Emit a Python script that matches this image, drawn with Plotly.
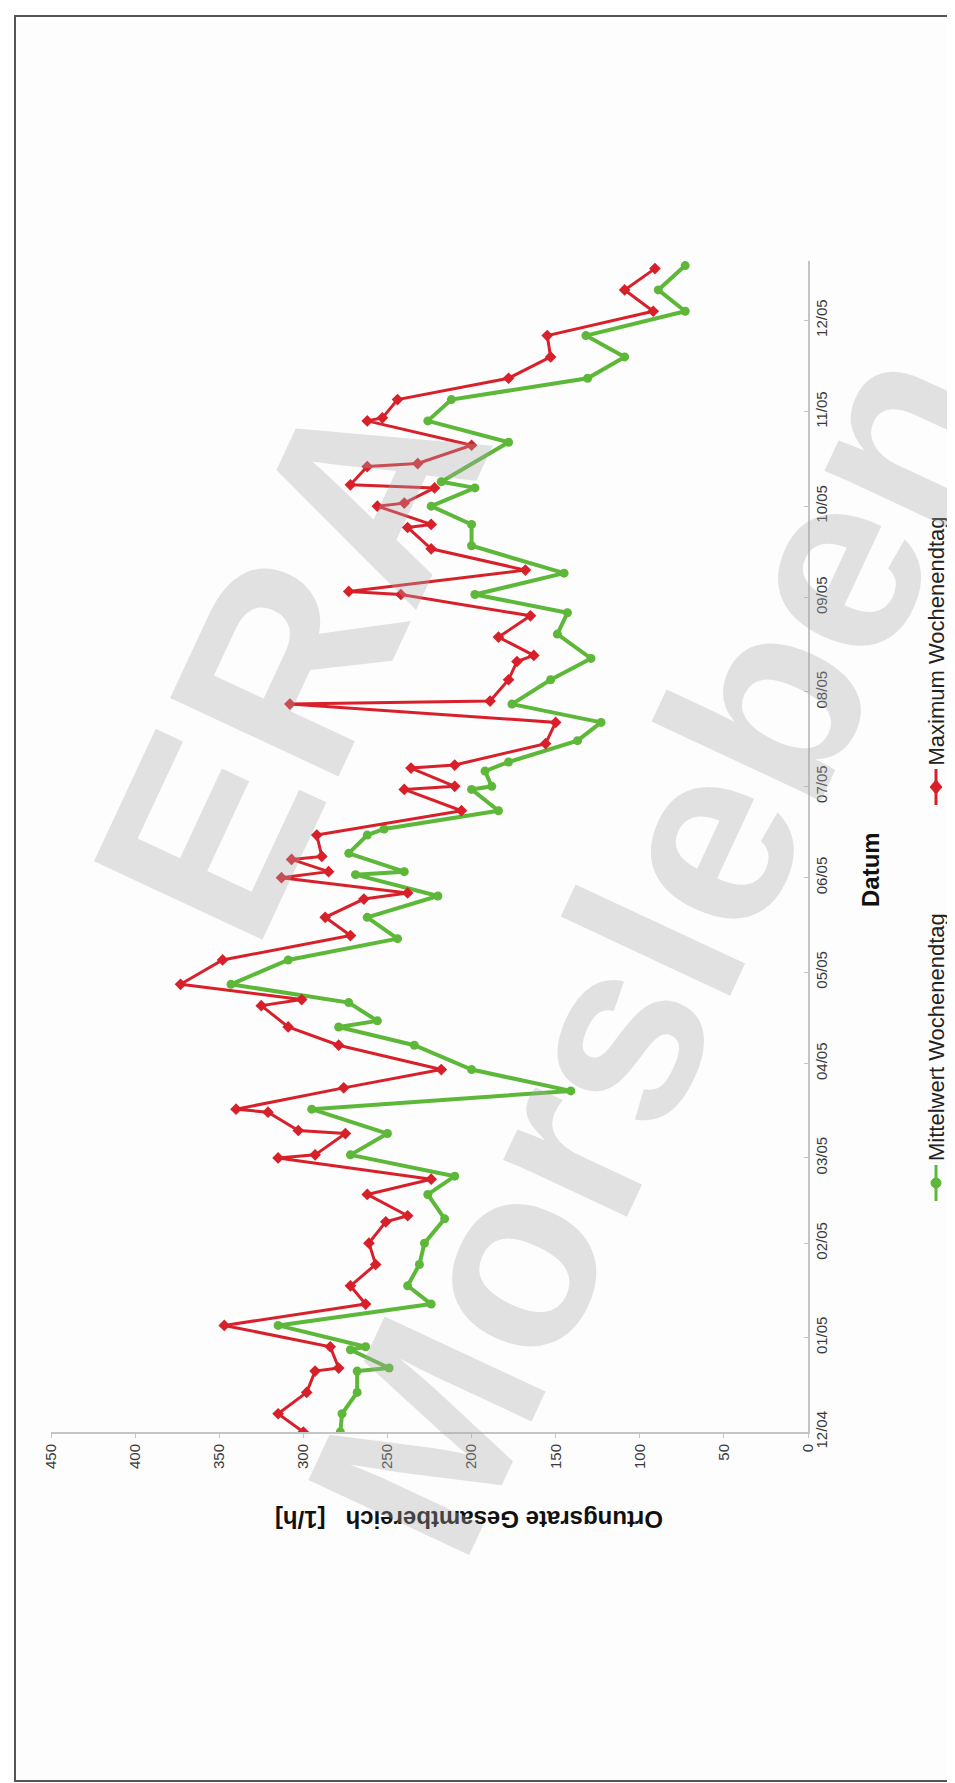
import plotly.graph_objects as go

# ---------------- data ----------------
mean_dates = ["2004-12-01","2004-12-07","2004-12-14","2004-12-21","2004-12-22","2004-12-28","2004-12-29",
              "2005-01-05","2005-01-12","2005-01-18","2005-01-25","2005-02-01","2005-02-09","2005-02-17",
              "2005-02-23","2005-03-02","2005-03-09","2005-03-17","2005-03-23","2005-03-30","2005-04-07",
              "2005-04-13","2005-04-15","2005-04-21","2005-04-27","2005-05-05","2005-05-12","2005-05-19",
              "2005-05-26","2005-06-02","2005-06-03","2005-06-09","2005-06-15","2005-06-17","2005-06-23",
              "2005-06-30","2005-07-01","2005-07-06","2005-07-09","2005-07-16","2005-07-22","2005-07-28",
              "2005-08-05","2005-08-12","2005-08-20","2005-08-27","2005-09-02","2005-09-09","2005-09-18",
              "2005-09-25","2005-10-01","2005-10-07","2005-10-09","2005-10-22","2005-10-29","2005-11-05",
              "2005-11-12","2005-11-19","2005-11-26","2005-12-04","2005-12-11","2005-12-19"]
mean_values = [278,277,268,268,249,272,263,315,224,238,231,228,216,226,210,272,250,295,141,200,
               234,279,256,273,343,309,244,262,220,269,240,273,262,252,184,200,188,192,178,137,
               123,176,153,129,149,143,198,145,200,200,224,198,218,178,226,212,131,109,132,73,89,73]

max_dates = ["2004-12-01","2004-12-07","2004-12-14","2004-12-21","2004-12-22","2004-12-29","2005-01-05",
             "2005-01-12","2005-01-18","2005-01-25","2005-02-01","2005-02-08","2005-02-10","2005-02-17",
             "2005-02-22","2005-03-01","2005-03-02","2005-03-09","2005-03-10","2005-03-16","2005-03-17",
             "2005-03-24","2005-03-30","2005-04-07","2005-04-13","2005-04-20","2005-04-22","2005-04-27",
             "2005-05-05","2005-05-13","2005-05-19","2005-05-25","2005-05-27","2005-06-01","2005-06-03",
             "2005-06-07","2005-06-08","2005-06-15","2005-06-23","2005-06-30","2005-07-01","2005-07-07",
             "2005-07-08","2005-07-15","2005-07-22","2005-07-28","2005-07-29","2005-08-05","2005-08-11",
             "2005-08-13","2005-08-19","2005-08-26","2005-09-02","2005-09-03","2005-09-10","2005-09-17",
             "2005-09-24","2005-09-25","2005-10-01","2005-10-02","2005-10-07","2005-10-08","2005-10-14",
             "2005-10-15","2005-10-21","2005-10-29","2005-10-30","2005-11-05","2005-11-12","2005-11-19",
             "2005-11-26","2005-12-04","2005-12-11","2005-12-18"]
max_values = [300,315,298,293,279,284,347,263,272,257,261,251,238,262,224,315,293,275,303,321,
              340,276,218,279,309,325,301,373,348,272,287,264,238,313,285,307,289,292,206,240,
              210,236,210,156,150,308,189,178,173,163,184,165,242,273,168,224,238,224,256,240,
              222,272,262,232,200,262,253,244,178,153,155,92,109,91]

series_names = ["Mittelwert Wochenendtag", "Maximum Wochenendtag"]
value_ticks = [0, 50, 100, 150, 200, 250, 300, 350, 400, 450]
value_title = "Ortungsrate Gesamtbereich\u00a0\u00a0 [1/h]"
date_title = "Datum"
watermark = ["ERA", "Morsleben"]

# ---------------- layout geometry (page pixels) ----------------
W, H = 955, 1783
L, R, T, B = 43, 800, 253, 1424


def px(x):
    return (x - L) / (R - L)


def py(y):
    return (B - y) / (B - T)


GREEN = "#5db83a"
RED = "#d8202a"
FONT = "Liberation Sans, Arial, sans-serif"

fig = go.Figure()
fig.add_trace(go.Scatter(
    x=mean_values, y=mean_dates, mode="lines+markers", name=series_names[0],
    line=dict(color=GREEN, width=4), marker=dict(color=GREEN, size=9, symbol="circle"),
    showlegend=False))
fig.add_trace(go.Scatter(
    x=max_values, y=max_dates, mode="lines+markers", name=series_names[1],
    line=dict(color=RED, width=3), marker=dict(color=RED, size=9, symbol="diamond"),
    showlegend=False))

fig.update_layout(
    width=W, height=H,
    margin=dict(l=L, r=W - R, t=T, b=H - B, pad=0),
    paper_bgcolor="#fdfdfd", plot_bgcolor="rgba(0,0,0,0)",
    font=dict(family=FONT, color="#333333"),
    xaxis=dict(range=[450, 0], tickvals=value_ticks, tickangle=-90,
               showgrid=False, zeroline=False, showline=True, linecolor="#c4c4c4", linewidth=2,
               ticks="outside", ticklen=4, tickcolor="#c4c4c4",
               tickfont=dict(size=15, color="#3a3a3a")),
    yaxis=dict(type="date", range=["2004-12-01", "2005-12-20 12:00"], side="right",
               dtick="M1", tick0="2004-12-01", tickformat="%m/%y", tickangle=-90,
               showgrid=False, zeroline=False, showline=True, linecolor="#c4c4c4", linewidth=2,
               ticks="inside", ticklen=4, tickcolor="#c4c4c4", ticklabelstandoff=-1,
               tickfont=dict(size=15, color="#3a3a3a")),
)

ann = []
# axis titles
ann.append(dict(text="<b>" + value_title + "</b>", x=px(461), y=py(1512), xref="paper", yref="paper",
                showarrow=False, textangle=180, xanchor="center", yanchor="middle",
                font=dict(size=24, color="#111111", family=FONT)))
ann.append(dict(text="<b>" + date_title + "</b>", x=px(862), y=py(862), xref="paper", yref="paper",
                showarrow=False, textangle=-90, xanchor="center", yanchor="middle",
                font=dict(size=24, color="#111111", family=FONT)))

# manual rotated legend
shapes = []
leg_x = 928
for name, color, ymid, symbol in [(series_names[0], GREEN, 1175, "circle"),
                                  (series_names[1], RED, 779, "diamond")]:
    shapes.append(dict(type="line", xref="paper", yref="paper",
                       x0=px(leg_x), x1=px(leg_x), y0=py(ymid + 18), y1=py(ymid - 18),
                       line=dict(color=color, width=3)))
    if symbol == "circle":
        shapes.append(dict(type="circle", xref="paper", yref="paper",
                           x0=px(leg_x - 5), x1=px(leg_x + 5), y0=py(ymid + 5), y1=py(ymid - 5),
                           fillcolor=color, line=dict(color=color, width=1)))
    else:
        path = "M {a},{b} L {c},{d} L {a},{e} L {f},{d} Z".format(
            a=px(leg_x), b=py(ymid - 7), c=px(leg_x + 6), d=py(ymid), e=py(ymid + 7), f=px(leg_x - 6))
        shapes.append(dict(type="path", xref="paper", yref="paper", path=path,
                           fillcolor=color, line=dict(color=color, width=1)))
    ann.append(dict(text=name, x=px(leg_x), y=py(ymid - 20), xref="paper", yref="paper",
                    showarrow=False, textangle=-90, xanchor="center", yanchor="bottom",
                    font=dict(size=22, color="#222222", family=FONT)))

# watermark (large grey diagonal text)
WM_COLOR = "rgba(170,170,170,0.33)"
ann.append(dict(text="<b>" + watermark[0] + "</b>", x=px(282), y=py(650), xref="paper", yref="paper",
                showarrow=False, textangle=-65, xanchor="center", yanchor="middle",
                font=dict(size=270, color=WM_COLOR, family=FONT)))
ann.append(dict(text="<b>" + watermark[1] + "</b>", x=px(645), y=py(940), xref="paper", yref="paper",
                showarrow=False, textangle=-65, xanchor="center", yanchor="middle",
                font=dict(size=258, color=WM_COLOR, family=FONT)))

# page frame
shapes.append(dict(type="rect", xref="paper", yref="paper",
                   x0=px(7), x1=px(947), y0=py(1773), y1=py(8),
                   line=dict(color="#555555", width=2), layer="above"))

fig.update_layout(annotations=ann, shapes=shapes)
fig.write_html("out.html")
